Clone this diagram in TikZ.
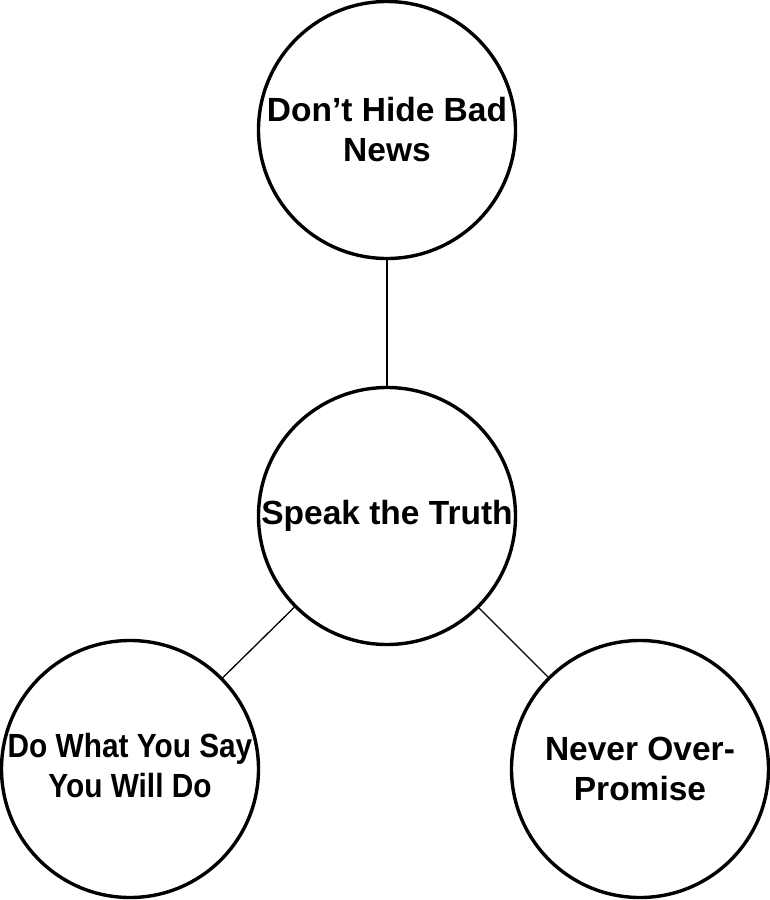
\documentclass[tikz,border=0pt]{standalone}
\usepackage{fontspec}
\usepackage{graphicx}
\setmainfont{Liberation Sans}
\begin{document}
\begin{tikzpicture}[x=1pt,y=-1pt,
  bubble/.style={circle,draw=black,line width=3.4pt,minimum size=257pt,inner sep=0pt,
    align=center,font=\fontsize{33.5}{40}\selectfont\bfseries},
  link/.style={draw=black,line width=1.3pt}]
\useasboundingbox (0,0) rectangle (769,900);
\node[bubble] (top) at (387,130) {Don’t Hide Bad\\News};
\node[bubble] (mid) at (387,516) {Speak the Truth};
\node[bubble] (bl) at (130,769) {\raisebox{-2pt}{\scalebox{0.89}[1]{\begin{tabular}{@{}c@{}}Do What You Say\\You Will Do\end{tabular}}}};
\node[bubble] (br) at (640,769) {Never Over-\\Promise};
\draw[link] (top) -- (mid);
\draw[link] (mid) -- (bl);
\draw[link] (mid) -- (br);
\end{tikzpicture}
\end{document}
